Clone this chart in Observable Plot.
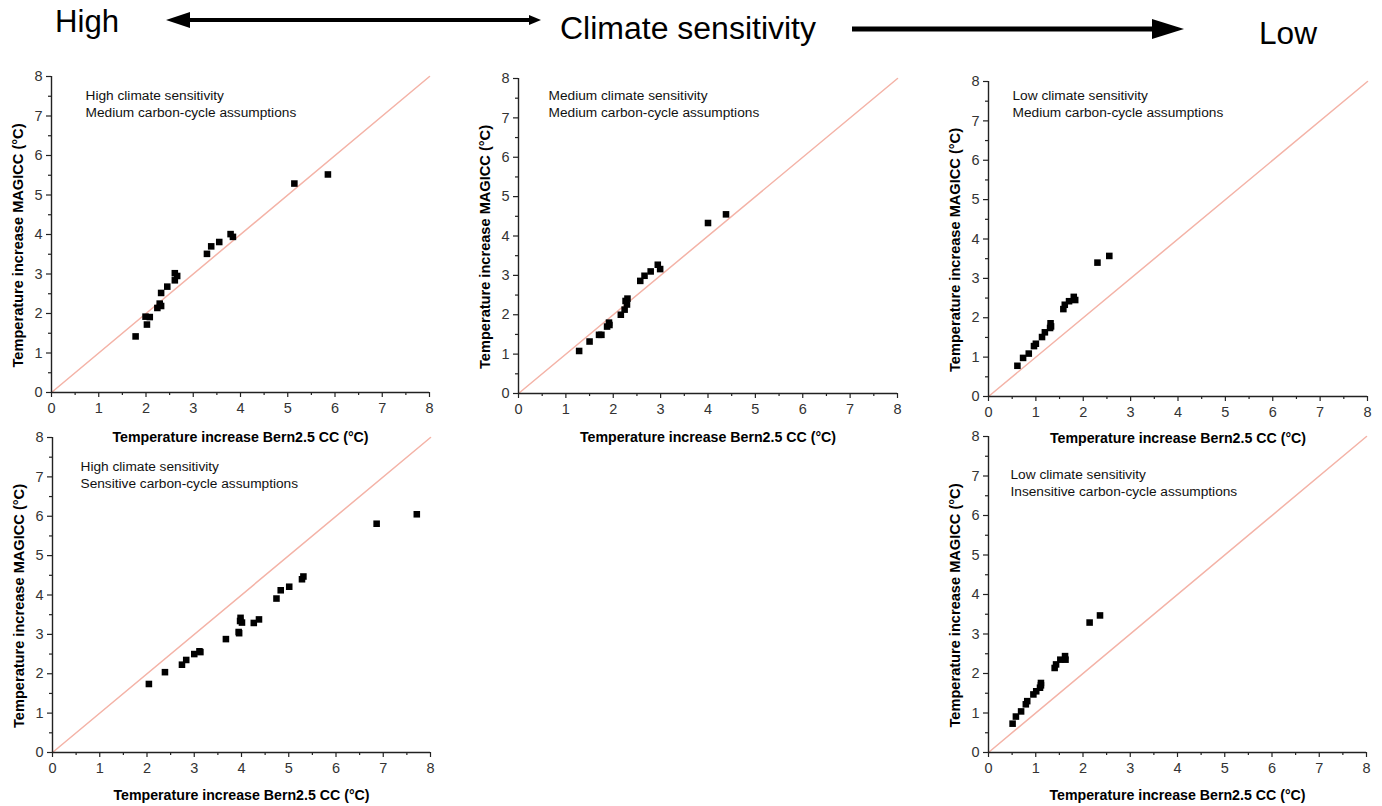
<!DOCTYPE html>
<html>
<head>
<meta charset="utf-8">
<script src="https://cdn.jsdelivr.net/npm/d3@7"></script>
<script src="https://cdn.jsdelivr.net/npm/@observablehq/plot@0.6"></script>
<style>
  html, body { margin: 0; padding: 0; background: #ffffff; }
  #root { position: relative; width: 1382px; height: 806px; overflow: hidden; font-family: "Liberation Sans", Arial, sans-serif; }
  #root svg { position: absolute; overflow: visible; }
</style>
</head>
<body>
<div id="root">
  <svg id="header" width="1382" height="60" style="left:0;top:0">
    <text x="55" y="32" font-size="31" textLength="64" lengthAdjust="spacingAndGlyphs" fill="#000">High</text>
    <line x1="186" y1="20" x2="532" y2="20" stroke="#000" stroke-width="4"/>
    <polygon points="166,20 190,12 190,28" fill="#000"/>
    <polygon points="541,20 529,15 529,25" fill="#000"/>
    <text x="560" y="39" font-size="31" textLength="256" lengthAdjust="spacingAndGlyphs" fill="#000">Climate sensitivity</text>
    <line x1="852" y1="29" x2="1156" y2="29" stroke="#000" stroke-width="5"/>
    <polygon points="1184,29 1152,19 1152,39" fill="#000"/>
    <text x="1259" y="44" font-size="31" textLength="58" lengthAdjust="spacingAndGlyphs" fill="#000">Low</text>
  </svg>
</div>
<script>
// ---- axis values ----
const axisDomain = [0, 8];
const majorTicks = [0, 1, 2, 3, 4, 5, 6, 7, 8];
const minorTicks = [0.5, 1.5, 2.5, 3.5, 4.5, 5.5, 6.5, 7.5];
const xLabel = "Temperature increase Bern2.5 CC (°C)";
const yLabel = "Temperature increase MAGICC (°C)";

// ---- panel 1: High climate sensitivity, medium carbon cycle ----
const p1Title = "High climate sensitivity\nMedium carbon-cycle assumptions";
const p1x = [1.78, 1.99, 2.08, 2.02, 2.24, 2.29, 2.32, 2.32, 2.45, 2.61, 2.61, 2.66, 3.29, 3.38, 3.55, 3.79, 3.84, 5.14, 5.85];
const p1y = [1.42, 1.92, 1.91, 1.72, 2.14, 2.25, 2.19, 2.52, 2.68, 2.84, 3.02, 2.95, 3.51, 3.70, 3.81, 4.01, 3.94, 5.29, 5.52];

// ---- panel 2: Medium climate sensitivity, medium carbon cycle ----
const p2Title = "Medium climate sensitivity\nMedium carbon-cycle assumptions";
const p2x = [1.28, 1.50, 1.70, 1.75, 1.87, 1.91, 1.92, 2.16, 2.24, 2.26, 2.30, 2.29, 2.57, 2.66, 2.79, 2.94, 2.99, 4.00, 4.38];
const p2y = [1.08, 1.32, 1.49, 1.49, 1.70, 1.80, 1.74, 2.00, 2.13, 2.35, 2.41, 2.26, 2.86, 2.99, 3.10, 3.27, 3.16, 4.33, 4.55];

// ---- panel 3: Low climate sensitivity, medium carbon cycle ----
const p3Title = "Low climate sensitivity\nMedium carbon-cycle assumptions";
const p3x = [0.61, 0.73, 0.85, 0.96, 1.00, 1.13, 1.19, 1.30, 1.31, 1.32, 1.58, 1.61, 1.70, 1.80, 1.83, 2.30, 2.55];
const p3y = [0.78, 0.98, 1.09, 1.28, 1.34, 1.51, 1.63, 1.74, 1.86, 1.78, 2.22, 2.33, 2.42, 2.53, 2.45, 3.40, 3.57];

// ---- panel 4: High climate sensitivity, sensitive carbon cycle ----
const p4Title = "High climate sensitivity\nSensitive carbon-cycle assumptions";
const p4x = [2.04, 2.38, 2.74, 2.83, 3.00, 3.11, 3.13, 3.67, 3.94, 3.95, 3.98, 3.97, 4.01, 4.26, 4.37, 4.74, 4.83, 5.01, 5.28, 5.31, 6.86, 7.71];
const p4y = [1.74, 2.04, 2.23, 2.35, 2.50, 2.57, 2.55, 2.88, 3.06, 3.03, 3.42, 3.34, 3.30, 3.29, 3.38, 3.91, 4.12, 4.21, 4.40, 4.47, 5.81, 6.05];

// ---- panel 5: Low climate sensitivity, insensitive carbon cycle ----
const p5Title = "Low climate sensitivity\nInsensitive carbon-cycle assumptions";
const p5x = [0.51, 0.58, 0.69, 0.79, 0.82, 0.95, 1.01, 1.09, 1.11, 1.11, 1.40, 1.43, 1.52, 1.62, 1.63, 2.14, 2.36];
const p5y = [0.73, 0.91, 1.04, 1.22, 1.30, 1.47, 1.55, 1.64, 1.76, 1.70, 2.14, 2.23, 2.35, 2.44, 2.35, 3.29, 3.47];

// layout of each panel's frame (page pixels) and annotation offsets
const panels = [
  {x: p1x, y: p1y, title: p1Title, L: 51,  R: 429,  T: 76,  B: 392, tdx: 34, tdy: 12, labDy: 45},
  {x: p2x, y: p2y, title: p2Title, L: 518, R: 897,  T: 78,  B: 393, tdx: 30, tdy: 10, labDy: 44},
  {x: p3x, y: p3y, title: p3Title, L: 988, R: 1367, T: 81,  B: 396, tdx: 24, tdy: 7,  labDy: 42},
  {x: p4x, y: p4y, title: p4Title, L: 52,  R: 430,  T: 437, B: 752, tdx: 28, tdy: 22, labDy: 43},
  {x: p5x, y: p5y, title: p5Title, L: 988, R: 1366, T: 436, B: 752, tdx: 22, tdy: 31, labDy: 43}
];

const root = document.getElementById("root");
const font = "'Liberation Sans', Arial, sans-serif";

for (const p of panels) {
  const data = p.x.map((v, i) => ({bern: v, magicc: p.y[i]}));
  const mL = 60, mR = 14, mT = 14, mB = 58;
  const W = p.R - p.L, H = p.B - p.T;
  const svg = Plot.plot({
    width: W + mL + mR,
    height: H + mT + mB,
    marginLeft: mL, marginRight: mR, marginTop: mT, marginBottom: mB,
    x: {domain: axisDomain, axis: null},
    y: {domain: axisDomain, axis: null},
    style: {fontFamily: font, background: "transparent", color: "#222", overflow: "visible"},
    marks: [
      Plot.line(axisDomain, {x: d => d, y: d => d, stroke: "#f4b3a7", strokeWidth: 1.5}),
      Plot.axisX(majorTicks, {tickSize: 5, tickPadding: 5, fontSize: 14.5, fill: "#333", label: null, strokeWidth: 1.2}),
      Plot.axisX(minorTicks, {tickSize: 3, tickFormat: () => "", label: null, strokeWidth: 1.2}),
      Plot.axisY(majorTicks, {tickSize: 5, tickPadding: 4, fontSize: 14.5, fill: "#333", label: null, strokeWidth: 1.2}),
      Plot.axisY(minorTicks, {tickSize: 3, tickFormat: () => "", label: null, strokeWidth: 1.2}),
      Plot.ruleY([axisDomain[0]], {stroke: "#222", strokeWidth: 1.4}),
      Plot.ruleX([axisDomain[0]], {stroke: "#222", strokeWidth: 1.4}),
      Plot.dot(data, {x: "bern", y: "magicc", symbol: "square", r: 3.7, fill: "#000", stroke: "none"}),
      Plot.text([p.title], {frameAnchor: "top-left", dx: p.tdx, dy: p.tdy, fontSize: 13.7, lineHeight: 1.22, fill: "#111"}),
      Plot.text([xLabel], {frameAnchor: "bottom", textAnchor: "middle", lineAnchor: "middle", dy: p.labDy, fontSize: 14.2, fontWeight: "bold", fill: "#000"}),
      Plot.text([yLabel], {frameAnchor: "left", textAnchor: "middle", lineAnchor: "middle", dx: -33, dy: 11, rotate: -90, fontSize: 14.6, fontWeight: "bold", fill: "#000"})
    ]
  });
  svg.style.left = (p.L - mL) + "px";
  svg.style.top = (p.T - mT) + "px";
  root.appendChild(svg);
}
</script>
</body>
</html>
